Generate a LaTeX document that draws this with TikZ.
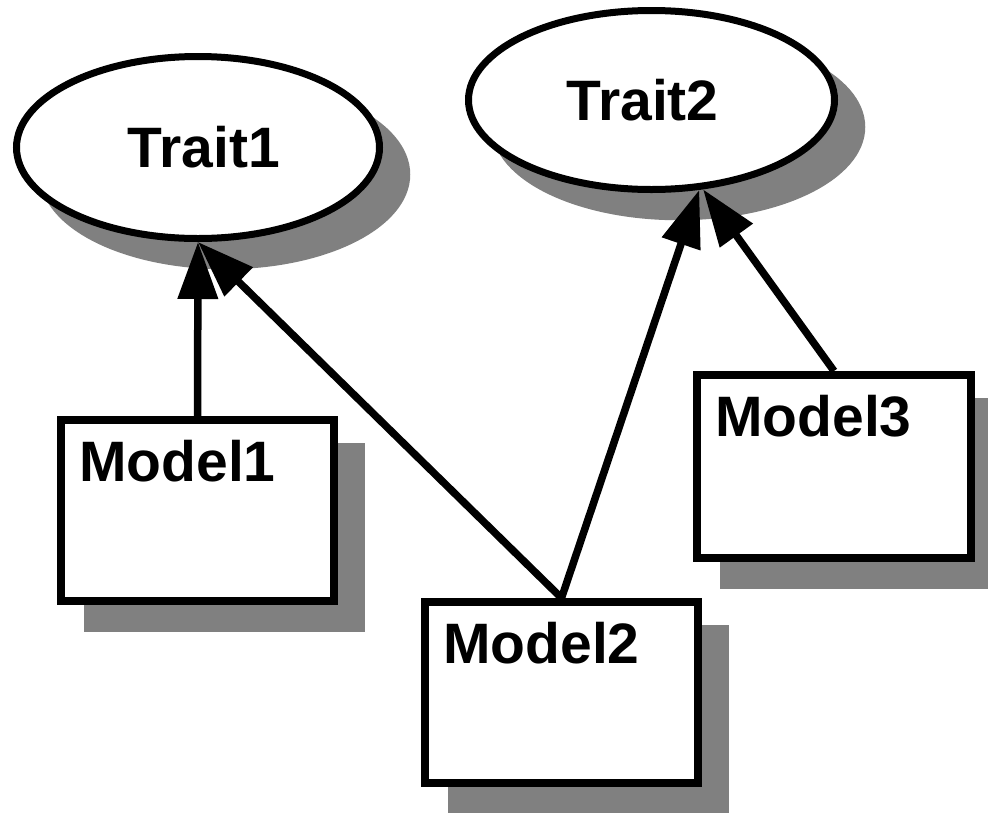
\documentclass[tikz,border=0pt]{standalone}
\usepackage{fontspec}
\setmainfont{Liberation Sans}
\usetikzlibrary{shapes.geometric,arrows.meta,shadows}
\definecolor{shadowgray}{RGB}{128,128,128}
\begin{document}
\begin{tikzpicture}[x=1pt,y=-1pt,
  shade/.style={drop shadow={shadow xshift=27pt,shadow yshift=-27pt,opacity=1,
      fill=shadowgray,draw=shadowgray,line width=7.5pt}},
  bigfont/.style={font=\fontsize{57}{68}\selectfont\bfseries},
  trait/.style={ellipse,draw,line width=7pt,fill=white,inner sep=0pt,bigfont,shade},
  model/.style={rectangle,draw,line width=8pt,fill=white,inner sep=0pt,
      minimum width=273pt,minimum height=181pt,shade},
  modeltext/.style={bigfont,inner sep=0pt,anchor=north west,xshift=22pt,yshift=-24pt},
  link/.style={line width=7.5pt,-{Triangle[length=57pt,width=39pt]}}]
\useasboundingbox (0,0) rectangle (988,812);

% traits (the label sits a little off the ellipse centre)
\node[trait,minimum width=363pt,minimum height=182pt] (t1) at (198,147.5)
  {\hspace*{12pt}Trait1};
\node[trait,minimum width=366pt,minimum height=179pt] (t2) at (651.5,100)
  {\hspace*{-18pt}Trait2};

% models
\node[model,label={[modeltext]north west:Model1}] (m1) at (197.5,510.5) {};
\node[model,label={[modeltext]north west:Model2}] (m2) at (561.5,692.5) {};
\node[model,minimum width=274pt,minimum height=183pt,
      label={[modeltext]north west:Model3}] (m3) at (834,466.5) {};

% inheritance links
\draw[link] (m1.north) -- (t1.south);
\draw[link] (m2.north) -- (t1.south);
\draw[link] (m2.north) -- (t2.-62);
\draw[link] (m3.north) -- (t2.-60);
\end{tikzpicture}
\end{document}
